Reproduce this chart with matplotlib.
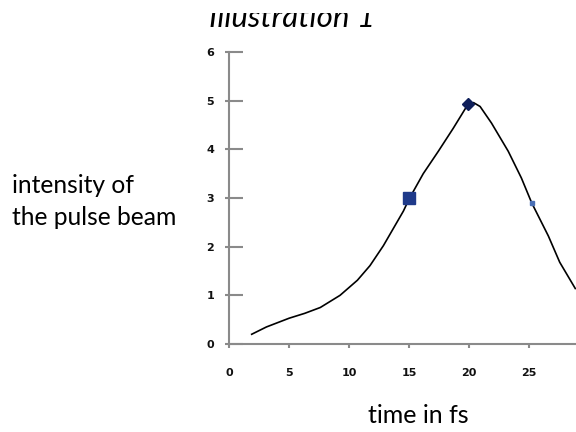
import matplotlib
matplotlib.use("Agg")
import matplotlib.pyplot as plt
from matplotlib.ticker import FixedLocator
from matplotlib.patches import Rectangle

# data
time_fs = [1.87, 3.1, 5.0, 6.3, 7.6, 9.25, 10.7, 11.75, 12.87, 14.54, 15.04, 16.2,
           17.46, 18.7, 19.4, 19.97, 20.4, 20.95, 21.9, 23.3, 24.4, 25.26, 26.65,
           27.6, 28.9]
intensity = [0.2, 0.35, 0.53, 0.63, 0.75, 1.0, 1.31, 1.61, 2.02, 2.73, 2.99, 3.5,
             3.96, 4.43, 4.71, 4.94, 4.96, 4.88, 4.54, 3.96, 3.41, 2.9, 2.22,
             1.68, 1.14]
square_pt = ([15.04], [2.99])
diamond_pt = ([19.97], [4.94])
small_pt = ([25.26], [2.9])
x_ticks = [0, 5, 10, 15, 20, 25]
y_ticks = [0, 1, 2, 3, 4, 5, 6]

fig = plt.figure(figsize=(5.76, 4.32), dpi=100)
ax = fig.add_axes([229.3/576, 1-344/432, 1-229.3/576, (344-52)/432])
ax.set_xlim(0, 28.96)
ax.set_ylim(0, 6)

ax.plot(time_fs, intensity, color="black", lw=1.2, zorder=3)
ax.plot(*square_pt, marker="s", ms=8, color="#1f3a8a", ls="none", zorder=4)
ax.plot(*diamond_pt, marker="D", ms=6, color="#0f1f5a", ls="none", zorder=4)
ax.plot(*small_pt, marker="s", ms=3, color="#4a6fb5", ls="none", zorder=4)

for s in ["top", "right"]:
    ax.spines[s].set_visible(False)
for s in ["left", "bottom"]:
    ax.spines[s].set_color("#8a8a8a")
    ax.spines[s].set_linewidth(1.5)

ax.xaxis.set_major_locator(FixedLocator(x_ticks))
ax.yaxis.set_major_locator(FixedLocator(y_ticks))
ax.yaxis.set_minor_locator(FixedLocator(y_ticks))
ax.yaxis.remove_overlapping_locs = False
ax.tick_params(axis="y", which="major", direction="in", length=10, width=1.5,
               color="#8a8a8a", pad=11, labelsize=8)
ax.tick_params(axis="y", which="minor", direction="out", length=3, width=1.5,
               color="#8a8a8a")
ax.tick_params(axis="x", which="major", direction="out", length=3, width=1.5,
               color="#8a8a8a", pad=14, labelsize=8)
for lab in ax.get_xticklabels() + ax.get_yticklabels():
    lab.set_fontweight("bold")
    lab.set_color("#111111")

fam = ["Lato", "DejaVu Sans"]
fig.text(292/576, 1-27/432, "Illustration 1", ha="center", va="baseline",
         fontsize=22.5, style="italic", family=fam, zorder=1)
# the reference picture is cut off just above the title's lower half
fig.patches.append(Rectangle((0, 1-13/432), 1, 13/432, transform=fig.transFigure,
                             facecolor="white", edgecolor="none", zorder=10))
fig.text(12/576, 1-193/432, "intensity of", ha="left", va="baseline",
         fontsize=17.7, family=fam)
fig.text(12/576, 1-225/432, "the pulse beam", ha="left", va="baseline",
         fontsize=17.7, family=fam)
fig.text(418/576, 1-423/432, "time in fs", ha="center", va="baseline",
         fontsize=18, family=fam)

fig.savefig("out.png", dpi=100)
